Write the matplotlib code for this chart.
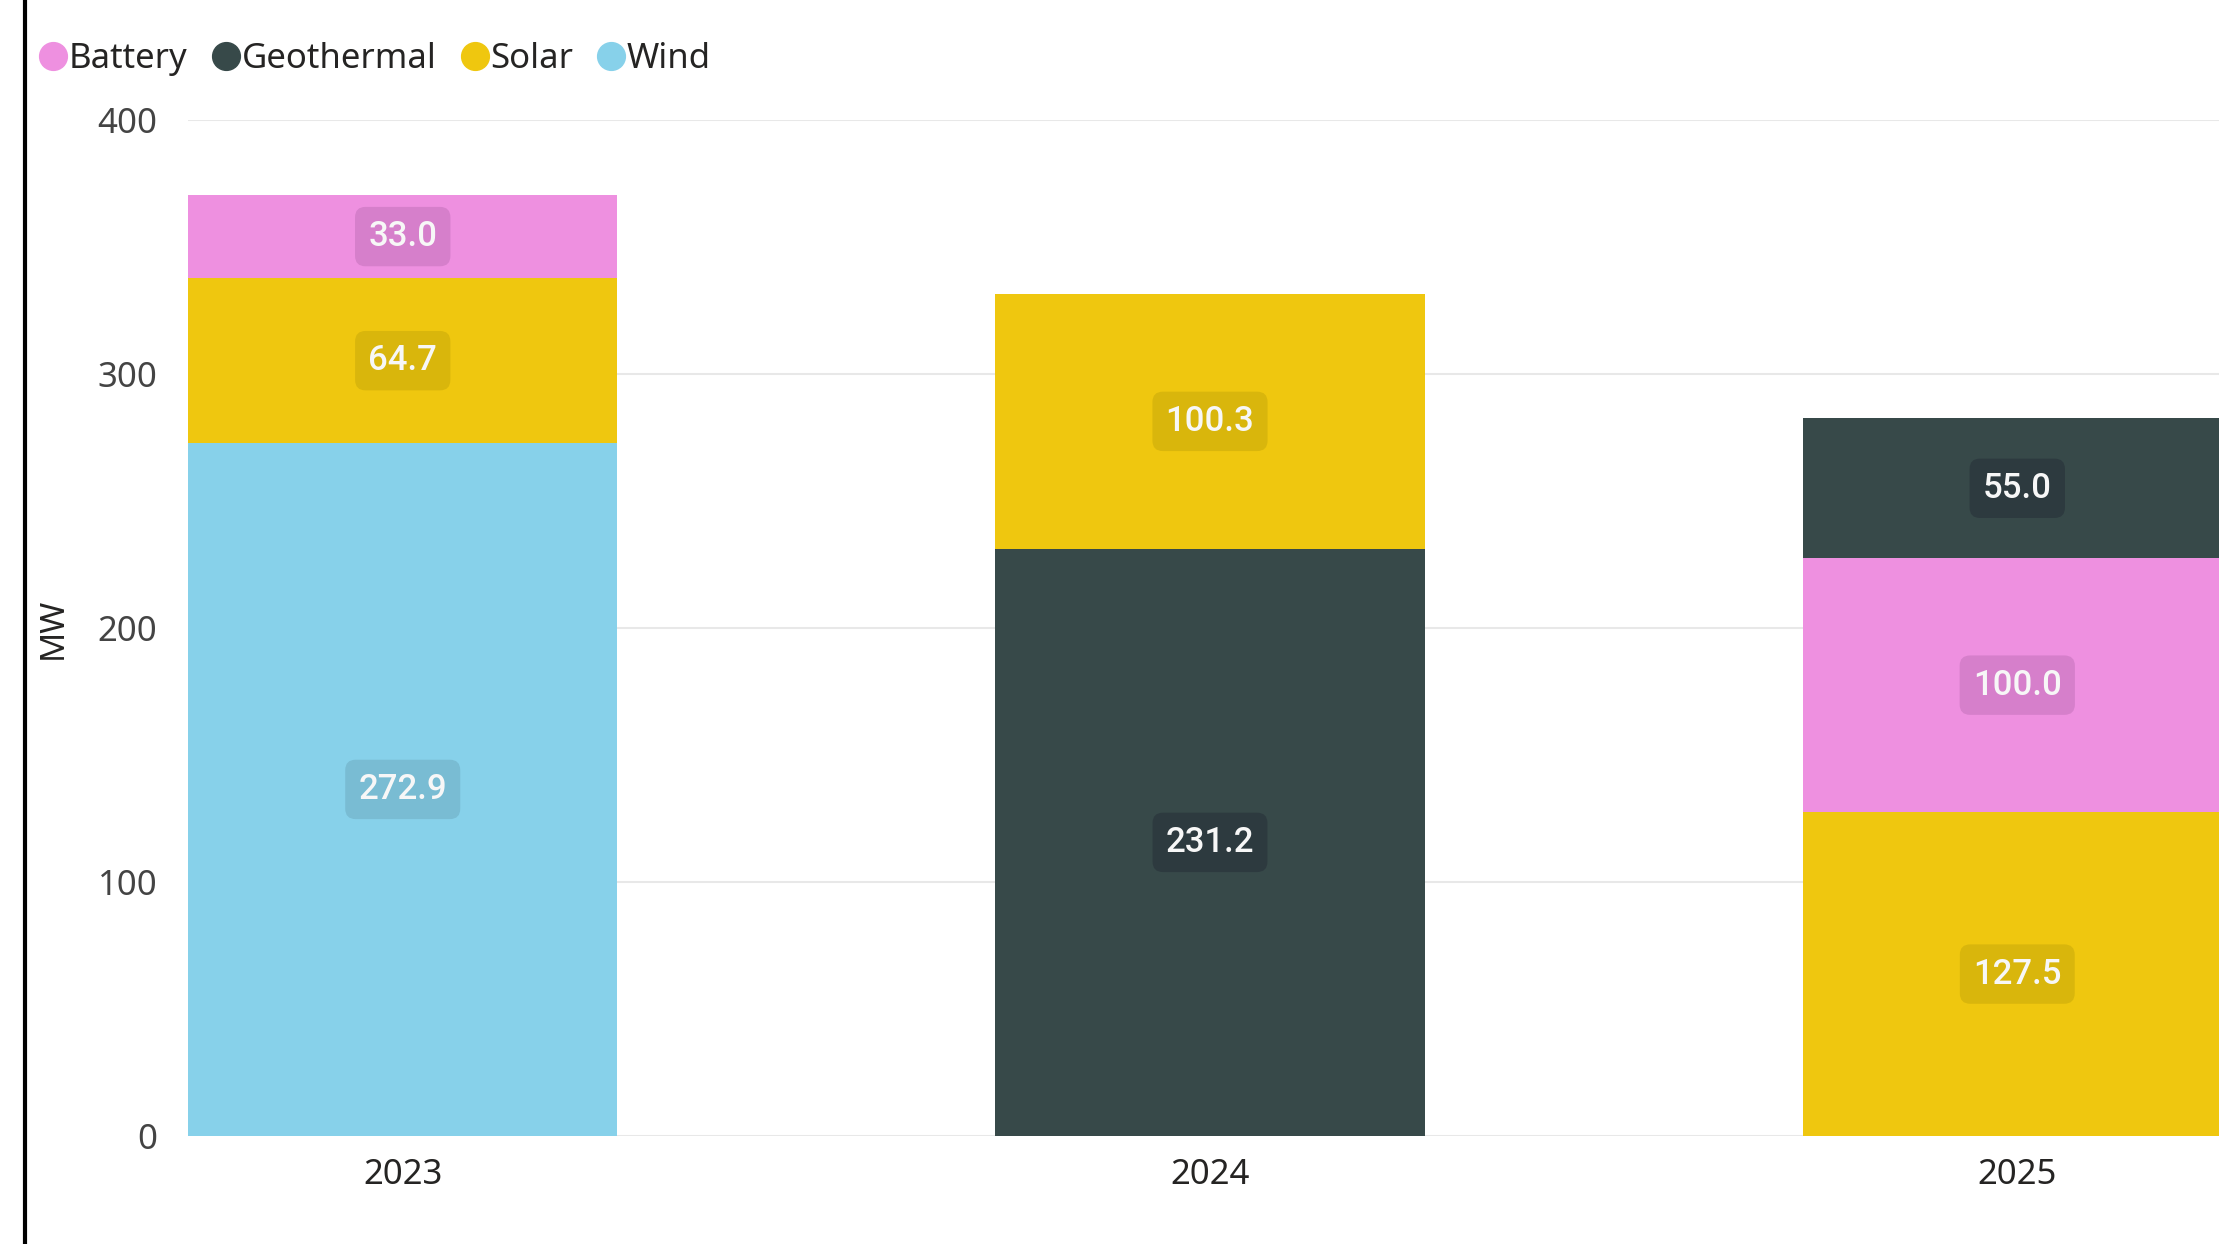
import matplotlib
matplotlib.use("Agg")
import matplotlib.pyplot as plt
from matplotlib.lines import Line2D

# DATA
years = ["2023", "2024", "2025"]
sources = ["Battery", "Geothermal", "Solar", "Wind"]
battery = [33.0, 0.0, 100.0]
geothermal = [0.0, 231.2, 55.0]
solar = [64.7, 100.3, 127.5]
wind = [272.9, 0.0, 0.0]
yticks = [0, 100, 200, 300, 400]

COLORS = {"Battery": "#EE90E0", "Geothermal": "#374949",
          "Solar": "#EFC70F", "Wind": "#87D1EA"}
BOX_COLORS = {"Battery": "#D67FCB", "Geothermal": "#2D3A3F",
              "Solar": "#D9B60C", "Wind": "#79BCD3"}
values = {"Battery": battery, "Geothermal": geothermal, "Solar": solar, "Wind": wind}

plt.rcParams['font.family'] = ['Noto Sans', 'DejaVu Sans']

fig = plt.figure(figsize=(22.19, 12.44), dpi=100)
ax = fig.add_axes([188 / 2219, 1 - 1136 / 1244, 2044 / 2219, 1016 / 1244])

width = 0.532
for i, yr in enumerate(years):
    # biggest segment at the bottom, like the source chart
    parts = sorted([(values[s][i], s) for s in sources if values[s][i] > 0], reverse=True)
    bottom = 0
    for v, s in parts:
        ax.bar(i, v, width=width, bottom=bottom, color=COLORS[s], zorder=2)
        ax.text(i, bottom + v / 2, f"{v:.1f}", ha='center', va='center',
                fontsize=25, color='#F7F7F7', family=['Roboto', 'DejaVu Sans'],
                fontweight='medium', zorder=3,
                bbox=dict(boxstyle='round,pad=0.38,rounding_size=0.3',
                          fc=BOX_COLORS[s], ec='none'))
        bottom += v

ax.set_xlim(-width / 2, 2 + width / 2)
ax.set_ylim(0, 400)
ax.set_yticks(yticks)
ax.set_xticks(range(len(years)))
ax.set_xticklabels(years)
ax.grid(axis='y', color='#E8E8E8', lw=1.5, zorder=0)
for sp in ax.spines.values():
    sp.set_visible(False)
ax.tick_params(axis='both', length=0, labelsize=25, colors='#444444')
ax.tick_params(axis='y', pad=22)
ax.tick_params(axis='x', pad=16, labelcolor='#252423')
ax.set_ylabel("MW", fontsize=24, color='#252423', labelpad=20)

handles = [Line2D([], [], marker='o', ls='none', ms=20, color=COLORS[s]) for s in sources]
fig.legend(handles, sources, loc='upper left', bbox_to_anchor=(22 / 2219, 1 - 28 / 1244),
           ncol=4, frameon=False, fontsize=25, handletextpad=-0.05,
           columnspacing=0.6, borderaxespad=0, handlelength=1.0,
           labelcolor='#252423')

# black left border
fig.add_artist(Line2D([25 / 2219, 25 / 2219], [0, 1], color='black', lw=3))

fig.savefig("out.png", dpi=100)
